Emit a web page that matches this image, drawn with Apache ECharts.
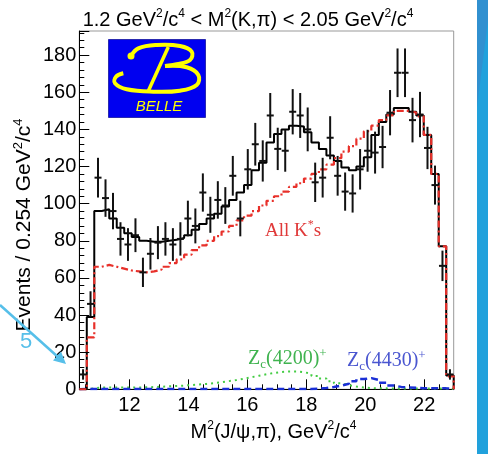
<!DOCTYPE html>
<html><head><meta charset="utf-8">
<script src="https://cdn.jsdelivr.net/npm/echarts@6/dist/echarts.min.js"></script>
<style>html,body{margin:0;padding:0;background:#fff}#c{width:488px;height:454px}</style>
</head><body><div id="c"></div>
<script>
// ---- binning (histogram definition) ----
const binStart = 10.3;
const binWidth = 0.254;
const xMin = 10.3, xMax = 23.0;
const yMin = 0, yMax = 193;

// ---- data points (events per bin) and their errors ----
const dataCounts = [8, 46, 114, 103, 96, 81, 78, 83, 63, 73, 79, 81, 78, 81, 92, 88, 106, 94, 102, 99,
  115, 92, 118.5, 132, 123, 147.5, 129.5, 128.5, 149.5, 147.5, 140, 111.5, 114, 135.5, 115, 106.5, 105.5, 118.5, 128.5, 127.5,
  130.5, 149, 170.5, 170.5, 145, 148, 130, 110, 66.5, 8];
const dataErrors = [2.8, 6.8, 10.7, 10.1, 9.8, 9, 8.8, 9.1, 7.9, 8.5, 8.9, 9, 8.8, 9, 9.6, 9.4, 10.3, 9.7, 10.1, 9.9,
  10.7, 9.6, 10.9, 11.5, 11.1, 12.1, 11.4, 11.3, 12.2, 12.1, 11.8, 10.6, 10.7, 11.6, 10.7, 10.3, 10.3, 10.9, 11.3, 11.3,
  11.4, 12.2, 13.1, 13.1, 12, 12.2, 11.4, 10.5, 8.2, 2.8];

// ---- fit components ----
const fitTotal = [0, 39, 96, 97, 92, 87, 84, 82, 80, 79.5, 79.5, 80, 80.5, 81.5, 83, 86, 89, 92, 94.5, 98.5,
  102, 106, 110, 118, 122, 133, 137.5, 140, 142, 141.5, 138.5, 133, 129.5, 126, 123, 119.5, 118, 120, 125, 137,
  144, 148, 151.5, 151.5, 149.5, 147.5, 137, 116, 77, 7.5];
const fitAllKstar = [0, 28, 66, 67, 66, 65, 64, 63.5, 63, 63.5, 64.5, 66, 68, 70, 72.5, 75, 77.5, 80, 82.5, 85,
  88, 91, 93.5, 96, 99, 101.5, 104, 106.5, 109, 111, 113.5, 116, 118.5, 121, 124.5, 128, 131, 135, 139, 142,
  145, 147.5, 150, 150, 149, 147, 137, 116, 77, 7];
const fitZc4200 = [0, 0.5, 1, 1, 1, 1, 1, 1, 1.1, 1.2, 1.4, 1.6, 1.8, 2, 2.3, 2.6, 2.9, 3.3, 3.8, 4.4,
  5, 5.7, 6.5, 7.3, 8.1, 8.8, 9.3, 9.6, 9.6, 9.2, 8.4, 7.2, 5.8, 4.4, 3.2, 2.2, 1.5, 1, 0.7, 0.5,
  0.5, 0.4, 0.4, 0.4, 0.4, 0.4, 0.4, 0.4, 0.4, 0.2];
const fitZc4430 = [0.2, 0.2, 0.2, 0.2, 0.2, 0.2, 0.2, 0.2, 0.2, 0.2, 0.2, 0.2, 0.2, 0.2, 0.2, 0.2, 0.2, 0.2, 0.2, 0.2,
  0.2, 0.2, 0.2, 0.2, 0.2, 0.2, 0.2, 0.2, 0.2, 0.2, 0.2, 0.4, 0.7, 1.2, 2, 3, 4.3, 5.5, 6, 5,
  3.5, 2, 1.3, 1, 0.8, 0.6, 0.5, 0.5, 0.5, 0.2];

function stepPoints(vals) {
  const pts = [];
  vals.forEach((v, i) => {
    const lo = binStart + i * binWidth, hi = lo + binWidth;
    if (i === 0) pts.push([lo, 0]);
    pts.push([lo, v]); pts.push([hi, v]);
  });
  pts.push([binStart + vals.length * binWidth, 0]);
  return pts;
}

const SANS = 'Liberation Sans, Arial, sans-serif';
const SERIF = 'Liberation Serif, Times New Roman, serif';

const chart = echarts.init(document.getElementById('c'), null, {renderer: 'canvas'});
chart.setOption({
  animation: false,
  backgroundColor: '#fff',
  grid: {left: 79.3, right: 34.3, top: 31, bottom: 64.7, show: true, borderColor: '#999', borderWidth: 1, backgroundColor: 'transparent'},
  xAxis: {
    type: 'value', min: xMin, max: xMax, splitNumber: 6,
    axisLine: {show: true, onZero: false, lineStyle: {color: '#000', width: 1}},
    axisTick: {show: true, inside: true, length: 10, lineStyle: {color: '#000', width: 1}},
    minorTick: {show: true, splitNumber: 4, length: 5, lineStyle: {color: '#000', width: 1}},
    axisLabel: {showMinLabel: false, showMaxLabel: false, fontSize: 20, color: '#000', margin: 6, fontFamily: SANS},
    splitLine: {show: false}
  },
  yAxis: {
    type: 'value', min: yMin, max: yMax, interval: 20,
    axisLine: {show: true, lineStyle: {color: '#000', width: 1}},
    axisTick: {show: true, inside: true, length: 10, lineStyle: {color: '#000', width: 1}},
    minorTick: {show: true, splitNumber: 5, length: 5, lineStyle: {color: '#000', width: 1}},
    axisLabel: {showMaxLabel: false, fontSize: 20, color: '#000', margin: 3, fontFamily: SANS},
    splitLine: {show: false}
  },
  series: [
    {type: 'line', name: 'Zc(4200)', data: stepPoints(fitZc4200), symbol: 'none', z: 2,
      lineStyle: {color: '#44cc44', width: 2, type: [2, 4]}},
    {type: 'line', name: 'Zc(4430)', data: stepPoints(fitZc4430), symbol: 'none', z: 2,
      lineStyle: {color: '#1a2fd6', width: 2.5, type: [7, 4]}},
    {type: 'line', name: 'Total fit', data: stepPoints(fitTotal), symbol: 'none', z: 3,
      lineStyle: {color: '#000', width: 2}},
    {type: 'line', name: 'All K*s', data: stepPoints(fitAllKstar), symbol: 'none', z: 4,
      lineStyle: {color: '#e8302a', width: 2.2, type: [7, 3, 2, 3]}},
    {type: 'custom', name: 'Data', z: 10,
      data: dataCounts.map((v, i) => [binStart + (i + 0.5) * binWidth, v, dataErrors[i]]),
      renderItem: function (params, api) {
        const x = api.value(0), y = api.value(1), e = api.value(2);
        const c = api.coord([x, y]);
        const t = api.coord([x, y + e]);
        const b = api.coord([x, Math.max(0, y - e)]);
        return {type: 'group', children: [
          {type: 'line', shape: {x1: c[0], y1: t[1], x2: c[0], y2: b[1]}, style: {stroke: '#111', lineWidth: 2}},
          {type: 'line', shape: {x1: c[0] - 3.5, y1: c[1], x2: c[0] + 3.5, y2: c[1]}, style: {stroke: '#111', lineWidth: 2}}
        ]};
      }}
  ],
  graphic: [
    // title
    {type: 'text', x: 248, y: 20, z: 20, style: {
      text: '1.2 GeV{sup|2}/c{sup|4} < M{sup|2}(K,π) < 2.05 GeV{sup|2}/c{sup|4}',
      fontSize: 20, fontFamily: SANS, fill: '#000', align: 'center', verticalAlign: 'middle', lineHeight: 24,
      rich: {sup: {fontSize: 12, fontFamily: SANS, verticalAlign: 'top', lineHeight: 12}}}},
    // y-axis title
    {type: 'text', x: 24, y: 225, rotation: Math.PI / 2, z: 20, style: {
      text: 'Events / 0.254 GeV{sup|2}/c{sup|4}',
      fontSize: 21, fontFamily: SANS, fill: '#000', align: 'center', verticalAlign: 'middle', lineHeight: 25,
      rich: {sup: {fontSize: 13, fontFamily: SANS, verticalAlign: 'top', lineHeight: 13}}}},
    // x-axis title
    {type: 'text', x: 273.5, y: 432, z: 20, style: {
      text: 'M{sup|2}(J/ψ,π), GeV{sup|2}/c{sup|4}',
      fontSize: 20, fontFamily: SANS, fill: '#000', align: 'center', verticalAlign: 'middle', lineHeight: 24,
      rich: {sup: {fontSize: 12, fontFamily: SANS, verticalAlign: 'top', lineHeight: 12}}}},
    // component labels
    {type: 'text', x: 265, y: 231, z: 20, style: {
      text: 'All K{sup|*}s', fontSize: 19, fontFamily: SERIF, fill: '#e03a3a', align: 'left', verticalAlign: 'middle', lineHeight: 24,
      rich: {sup: {fontSize: 12, fontFamily: SERIF, verticalAlign: 'top', lineHeight: 12}}}},
    {type: 'text', x: 248, y: 359, z: 20, style: {
      text: 'Z{sub|c}(4200){sup|+}', fontSize: 20, fontFamily: SERIF, fill: '#3fb34f', align: 'left', verticalAlign: 'middle', lineHeight: 24,
      rich: {sup: {fontSize: 13, fontFamily: SERIF, verticalAlign: 'top', lineHeight: 12},
             sub: {fontSize: 13, fontFamily: SERIF, verticalAlign: 'bottom', lineHeight: 12}}}},
    {type: 'text', x: 347, y: 361, z: 20, style: {
      text: 'Z{sub|c}(4430){sup|+}', fontSize: 20, fontFamily: SERIF, fill: '#4a56d0', align: 'left', verticalAlign: 'middle', lineHeight: 24,
      rich: {sup: {fontSize: 13, fontFamily: SERIF, verticalAlign: 'top', lineHeight: 12},
             sub: {fontSize: 13, fontFamily: SERIF, verticalAlign: 'bottom', lineHeight: 12}}}},
    // Belle logo
    {type: 'group', z: 15, children: [
      {type: 'rect', shape: {x: 108.5, y: 39.5, width: 97, height: 78}, style: {fill: '#0000f0', stroke: '#2a2ab0', lineWidth: 1}},
      {type: 'polyline', shape: {smooth: 0.4, points: [[131, 56], [138.3, 48.3], [156.7, 45], [180, 46], [191.7, 51.7], [190, 60], [176.7, 64.3], [165, 66]]},
        style: {stroke: '#ffff00', lineWidth: 4, fill: null}},
      {type: 'polyline', shape: {smooth: 0.4, points: [[165, 66], [186.7, 67.3], [198.3, 75], [196.7, 85], [180, 90.7], [153.3, 91.7], [126.7, 89.3], [115, 83.3], [116, 76.7], [123.3, 73.3]]},
        style: {stroke: '#ffff00', lineWidth: 4, fill: null}},
      {type: 'line', shape: {x1: 168.3, y1: 47, x2: 148.3, y2: 91}, style: {stroke: '#ffff00', lineWidth: 3.5}},
      {type: 'circle', shape: {cx: 131, cy: 56, r: 3.5}, style: {fill: '#ffff00'}},
      {type: 'text', x: 159, y: 106.5, style: {text: 'BELLE', fontSize: 15, fontStyle: 'italic', fontFamily: SANS, fill: '#ffff00', align: 'center', verticalAlign: 'middle'}}
    ]},
    // slide decorations
    {type: 'rect', z: 30, shape: {x: 477, y: 0, width: 11, height: 454}, style: {fill: '#21a1dc'}},
    {type: 'polygon', z: 31, shape: {points: [[477, 0], [488, 0], [488, 20], [477, 107]]}, style: {fill: '#3190d0'}},
    {type: 'line', z: 30, shape: {x1: 0, y1: 305, x2: 58, y2: 357}, style: {stroke: '#56bfe9', lineWidth: 2.5}},
    {type: 'polygon', z: 30, shape: {points: [[66, 364], [53, 360.5], [61, 351.5]]}, style: {fill: '#56bfe9'}},
    {type: 'text', x: 26, y: 342, z: 31, style: {text: '5', fontSize: 22, fontFamily: SANS, fill: '#56bfe9', align: 'center', verticalAlign: 'middle'}}
  ]
});
</script>
</body></html>
